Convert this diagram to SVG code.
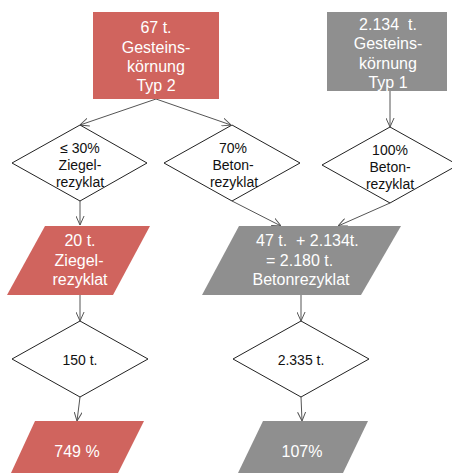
<svg xmlns="http://www.w3.org/2000/svg" width="452" height="473" viewBox="0 0 452 473">
<defs>
<marker id="arr" viewBox="0 0 10 10" refX="10" refY="5" markerWidth="9" markerHeight="9" markerUnits="userSpaceOnUse" orient="auto">
<path d="M0,0.5 L10,5 L0,9.5" fill="none" stroke="#555" stroke-width="1.1"/>
</marker>
</defs>
<style>
.red{fill:#d0645e}
.gray{fill:#8f8f8f}
.dia{fill:#fff;stroke:#222;stroke-width:1}
.wt{font-family:"Liberation Sans",Arial,sans-serif;font-size:16px;fill:#fff;text-anchor:middle}
.bt{font-family:"Liberation Sans",Arial,sans-serif;font-size:14px;fill:#111;text-anchor:middle}
.con{fill:none;stroke:#555;stroke-width:1;marker-end:url(#arr)}
</style>
<rect width="452" height="473" fill="#fff"/>
<g id="connectors">
<line class="con" x1="156" y1="99" x2="80" y2="125"/>
<line class="con" x1="156" y1="99" x2="231" y2="125"/>
<line class="con" x1="390" y1="91" x2="390" y2="127"/>
<line class="con" x1="80" y1="201" x2="80" y2="225"/>
<line class="con" x1="232" y1="201" x2="281" y2="226"/>
<line class="con" x1="390" y1="203" x2="338" y2="226"/>
<line class="con" x1="80" y1="295" x2="80" y2="321"/>
<line class="con" x1="301" y1="295" x2="301" y2="321"/>
<line class="con" x1="80" y1="397" x2="77" y2="421"/>
<line class="con" x1="301" y1="397" x2="302" y2="421"/>
</g>
<g id="n_typ2">
<rect class="red" x="93" y="12" width="126" height="87"/>
<text class="wt" x="156" y="33">67 t.</text>
<text class="wt" x="156" y="53">Gesteins-</text>
<text class="wt" x="156" y="72">körnung</text>
<text class="wt" x="156" y="91">Typ 2</text>
</g>
<g id="n_typ1">
<rect class="gray" x="327" y="12" width="120" height="79"/>
<text class="wt" x="388" y="29.5" xml:space="preserve">2.134  t.</text>
<text class="wt" x="388" y="49">Gesteins-</text>
<text class="wt" x="388" y="68.5">körnung</text>
<text class="wt" x="388" y="88">Typ 1</text>
</g>
<g id="n_ziegel30">
<polygon class="dia" points="80,125 147,163 80,201 12,163"/>
<text class="bt" x="80" y="153">≤ 30%</text>
<text class="bt" x="80" y="170">Ziegel-</text>
<text class="bt" x="80" y="187">rezyklat</text>
</g>
<g id="n_beton70">
<polygon class="dia" points="232,125 300,163 232,201 164,163"/>
<text class="bt" x="233" y="153">70%</text>
<text class="bt" x="233" y="170">Beton-</text>
<text class="bt" x="234" y="187">rezyklat</text>
</g>
<g id="n_beton100">
<polygon class="dia" points="390,127 458,165 390,203 322,165"/>
<text class="bt" x="390" y="155">100%</text>
<text class="bt" x="390" y="172">Beton-</text>
<text class="bt" x="390" y="189">rezyklat</text>
</g>
<g id="n_ziegel20">
<polygon class="red" points="45,226 150,226 113,295 7,295"/>
<text class="wt" x="80" y="246">20 t.</text>
<text class="wt" x="79" y="265.5">Ziegel-</text>
<text class="wt" x="80" y="285">rezyklat</text>
</g>
<g id="n_beton2180">
<polygon class="gray" points="239,226 401,226 361,295 202,295"/>
<text class="wt" x="256" y="246" style="text-anchor:start" xml:space="preserve">47 t.  + 2.134t.</text>
<text class="wt" x="266" y="265.5" style="text-anchor:start">= 2.180 t.</text>
<text class="wt" x="301" y="285">Betonrezyklat</text>
</g>
<g id="n_150">
<polygon class="dia" points="80,321 148,359 80,397 12,359"/>
<text class="bt" x="80" y="365">150 t.</text>
</g>
<g id="n_2335">
<polygon class="dia" points="301,321 369,359 301,397 233,359"/>
<text class="bt" x="301" y="365">2.335 t.</text>
</g>
<g id="n_749">
<polygon class="red" points="35,421 144,421 118,473 11,473"/>
<text class="wt" x="77" y="457">749 %</text>
</g>
<g id="n_107">
<polygon class="gray" points="263,421 368,421 343,473 238,473"/>
<text class="wt" x="302" y="457">107%</text>
</g>
</svg>
